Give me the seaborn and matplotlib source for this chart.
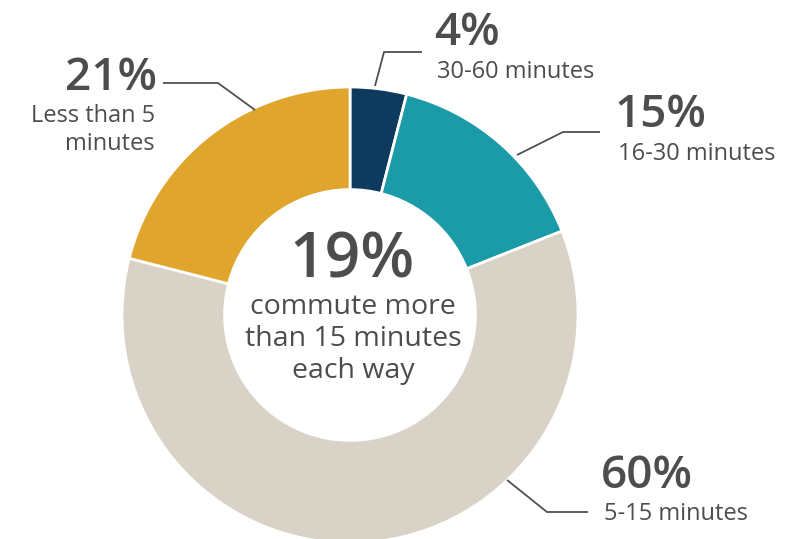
import matplotlib
matplotlib.use("Agg")
import matplotlib.pyplot as plt
import seaborn as sns

# Commute duration shares (percent), clockwise from 12 o'clock
categories = ["30-60 minutes", "16-30 minutes", "5-15 minutes", "Less than 5\nminutes"]
shares = [4, 15, 60, 21]
pct_labels = ["4%", "15%", "60%", "21%"]
colors = ["#0e3a5e", "#1b9ba7", "#d9d3c7", "#e0a52c"]

headline = "19%"
headline_text = ["commute more", "than 15 minutes", "each way"]

sns.set_theme(style="white")
plt.rcParams["font.family"] = ["Open Sans", "DejaVu Sans"]

W, H = 804, 539
fig = plt.figure(figsize=(W / 100, H / 100), dpi=100)
ax = fig.add_axes([0, 0, 1, 1])

cx, cy = 350, H - 315
R = 228
ax.pie(
    shares, colors=sns.color_palette(colors), startangle=90, counterclock=False,
    center=(cx, cy), radius=R, frame=True,
    wedgeprops=dict(width=R * 0.45, edgecolor="white", linewidth=2),
)
ax.set_xlim(0, W)
ax.set_ylim(0, H)
ax.axis("off")

txt = "#4d4d4d"
line_c = "#505050"


def y(v):
    return H - v


# leader lines (top-left pixel coordinates converted)
leaders = [
    [(375, 86), (384, 52), (422, 52)],
    [(517, 155), (563, 132), (600, 132)],
    [(507, 480), (547, 512), (588, 512)],
    [(255, 110), (218, 83), (163, 83)],
]
for pts in leaders:
    ax.plot([p[0] for p in pts], [y(p[1]) for p in pts], color=line_c, lw=1.3,
            solid_capstyle="butt")

# percentage + description labels: x, pct baseline, first description baseline
pos = [
    (437, 45, 78, "left"),
    (618, 127, 160, "left"),
    (604, 488, 520, "left"),
    (155, 90, 122, "right"),
]
for (x0, yb, yd, ha), p, c in zip(pos, pct_labels, categories):
    ax.text(x0 - (3 if ha == "left" else -2), y(yb), p, fontsize=33, color=txt,
            fontweight="semibold", ha=ha, va="baseline")
    for i, line in enumerate(c.split("\n")):
        ax.text(x0, y(yd + 28 * i), line, fontsize=17, color=txt, ha=ha,
                va="baseline")

# centre text
ax.text(cx + 2, y(278), headline, fontsize=45, color=txt, fontweight="semibold",
        ha="center", va="baseline")
for i, line in enumerate(headline_text):
    ax.text(cx + 3, y(314 + 32 * i), line, fontsize=20.5, color=txt, ha="center",
            va="baseline")

fig.savefig("out.png", dpi=100)
